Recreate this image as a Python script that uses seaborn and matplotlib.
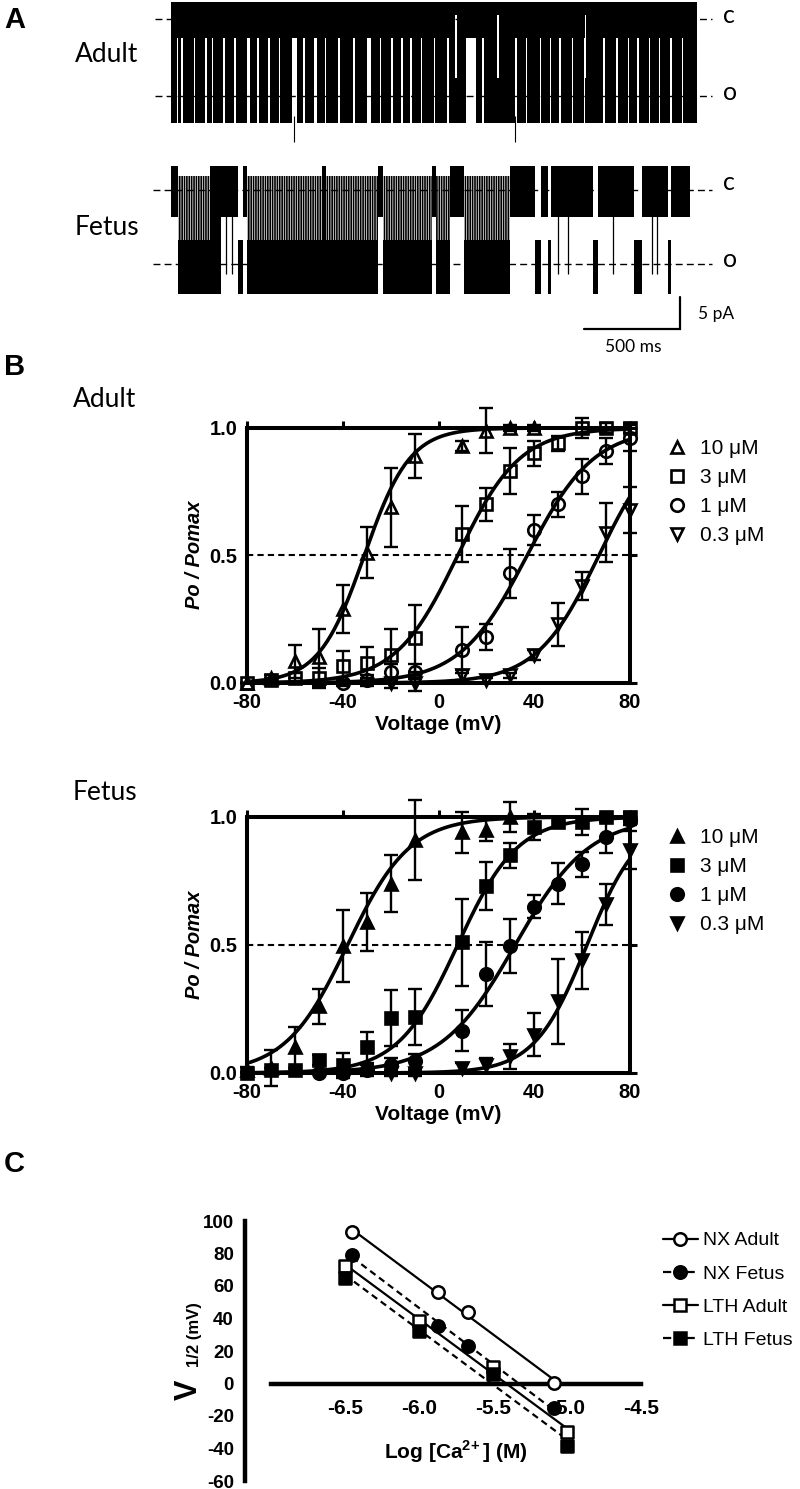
import numpy as np
import pandas as pd
import matplotlib
matplotlib.use("Agg")
import matplotlib.pyplot as plt
import seaborn as sns
from matplotlib.lines import Line2D

sns.set_theme(style="white")
plt.rcParams['font.family'] = ['Liberation Sans', 'DejaVu Sans']
plt.rcParams['axes.edgecolor'] = 'black'
plt.rcParams['text.color'] = 'black'
plt.rcParams['xtick.color'] = 'black'
plt.rcParams['ytick.color'] = 'black'
plt.rcParams['axes.unicode_minus'] = False
plt.rcParams['mathtext.fontset'] = 'custom'
plt.rcParams['mathtext.rm'] = 'Liberation Sans'
plt.rcParams['mathtext.bf'] = 'Liberation Sans:bold'
plt.rcParams['hatch.linewidth'] = 1.2

# ---------------- panel A: single channel recordings ----------------
# current levels (pA, openings go down) and noise band edges relative to level
adult_levels = {'c': 0.0, 'o': 12.0}
fetus_levels = {'c': 26.7, 'o': 38.3}
adult_band = {'c': (-2.7, 3.0), 'o': (-2.8, 4.2)}
fetus_band = {'c': (-3.7, 4.2), 'o': (-3.8, 4.7)}
adult_length_ms = 2740

# adult: fast flicker all along, white where the channel dwells closed / open
adult_closed_dwells = [(30, 8), (52, 10), (120, 6), (177, 10), (215, 6), (271, 10), (330, 6),
                       (396, 16), (450, 6), (505, 10), (560, 6), (630, 26), (690, 8),
                       (745, 14), (800, 6), (870, 8), (950, 6), (1021, 20), (1090, 6),
                       (1146, 10), (1200, 6), (1245, 12), (1300, 8), (1370, 6), (1440, 8),
                       (1536, 50), (1620, 8), (1791, 10), (1850, 6), (1920, 8), (1975, 6),
                       (2021, 10), (2090, 6), (2150, 8), (2250, 10), (2320, 6), (2380, 8),
                       (2427, 10), (2490, 6), (2540, 8), (2599, 10), (2660, 6)]
adult_open_dwells = [(1479, 8), (1698, 10), (2156, 6)]
adult_deep_spikes = [640, 1790]

# fetus: segments (start ms, end ms, state)
# C closed, O open, F fast flicker, Oc open with frequent brief closings
fetus_segments = [(0, 36, 'C'), (36, 203, 'Oc'), (203, 260, 'F'), (260, 349, 'C'),
                  (349, 375, 'O'), (375, 396, 'C'), (396, 787, 'Oc'), (787, 807, 'F'),
                  (807, 1078, 'Oc'), (1078, 1104, 'C'), (1104, 1359, 'Oc'), (1359, 1380, 'C'),
                  (1380, 1453, 'Oc'), (1453, 1526, 'C'), (1526, 1766, 'Oc'), (1766, 1896, 'C'),
                  (1896, 1927, 'O'), (1927, 1964, 'C'), (1964, 1979, 'O'), (1979, 2198, 'C'),
                  (2198, 2224, 'O'), (2224, 2411, 'C'), (2411, 2453, 'O'), (2453, 2589, 'C'),
                  (2589, 2604, 'O'), (2604, 2703, 'C')]
fetus_brief_openings = [286, 318, 2016, 2068, 2302, 2505, 2531]
scale_ms, scale_pa = 500, 5

# ---------------- panel B: Po / Pomax vs voltage ----------------
volts = [-80, -70, -60, -50, -40, -30, -20, -10, 0, 10, 20, 30, 40, 50, 60, 70, 80]
n = np.nan
adult_po = {
    '10': [0.0, 0.02, 0.085, 0.10, 0.29, 0.51, 0.69, 0.89, n, 0.93, 0.99, 1.0, 1.0, n, n, n, n],
    '3': [0.0, 0.01, 0.02, 0.02, 0.065, 0.08, 0.11, 0.175, n, 0.585, 0.70, 0.83, 0.90, 0.94, 1.0, 1.0, 1.0],
    '1': [n, n, n, n, 0.0, 0.01, 0.045, 0.045, n, 0.13, 0.18, 0.43, 0.60, 0.70, 0.81, 0.91, 0.96],
    '0.3': [n, n, n, n, n, n, 0.0, 0.0, n, 0.03, 0.01, 0.03, 0.11, 0.23, 0.38, 0.59, 0.68],
}
adult_sem = {
    '10': [0.0, 0.01, 0.065, 0.11, 0.095, 0.10, 0.155, 0.085, n, 0.02, 0.09, 0.01, 0.01, n, n, n, n],
    '3': [0.0, 0.01, 0.02, 0.04, 0.06, 0.06, 0.10, 0.13, n, 0.11, 0.065, 0.09, 0.05, 0.03, 0.04, 0.02, 0.02],
    '1': [n, n, n, n, 0.01, 0.02, 0.03, 0.03, n, 0.09, 0.05, 0.095, 0.06, 0.05, 0.07, 0.05, 0.05],
    '0.3': [n, n, n, n, n, n, 0.02, 0.03, n, 0.02, 0.01, 0.01, 0.02, 0.085, 0.055, 0.115, 0.09],
}
fetus_po = {
    '10': [0.013, 0.02, 0.10, 0.26, 0.495, 0.59, 0.74, 0.91, n, 0.94, 0.95, 1.0, n, n, n, n, n],
    '3': [0.0, 0.01, 0.01, 0.05, 0.03, 0.10, 0.215, 0.22, n, 0.51, 0.73, 0.85, 0.96, 0.98, 0.98, 1.0, 1.0],
    '1': [n, n, n, 0.0, 0.0, 0.01, 0.03, 0.045, n, 0.165, 0.385, 0.495, 0.65, 0.74, 0.815, 0.92, 0.99],
    '0.3': [n, n, n, n, n, n, 0.0, 0.0, n, 0.02, 0.03, 0.065, 0.15, 0.28, 0.44, 0.66, 0.87],
}
fetus_sem = {
    '10': [0.01, 0.07, 0.08, 0.07, 0.14, 0.115, 0.11, 0.155, n, 0.08, 0.045, 0.06, n, n, n, n, n],
    '3': [0.0, 0.01, 0.01, 0.02, 0.05, 0.06, 0.11, 0.11, n, 0.17, 0.095, 0.05, 0.05, 0.02, 0.05, 0.01, 0.02],
    '1': [n, n, n, 0.0, 0.01, 0.02, 0.03, 0.03, n, 0.08, 0.125, 0.105, 0.045, 0.08, 0.05, 0.06, 0.02],
    '0.3': [n, n, n, n, n, n, 0.01, 0.01, n, 0.02, 0.03, 0.05, 0.085, 0.165, 0.11, 0.08, 0.075],
}
# Boltzmann fits: (V1/2 mV, slope mV)
adult_fit = {'10': (-31, 9.5), '3': (8, 13), '1': (37, 14), '0.3': (67, 13)}
fetus_fit = {'10': (-38, 13), '3': (8, 12.5), '1': (32, 15.5), '0.3': (62, 11)}
conc_labels = {'10': '10 \u03bcM', '3': '3 \u03bcM', '1': '1 \u03bcM', '0.3': '0.3 \u03bcM'}
conc_markers = {'10': '^', '3': 's', '1': 'o', '0.3': 'v'}

# ---------------- panel C: V1/2 vs log[Ca] ----------------
nx_adult_logca = [-6.45, -5.87, -5.67, -5.09]
nx_adult_v = [93, 56.5, 44, 0.6]
nx_fetus_logca = [-6.45, -5.87, -5.67, -5.09]
nx_fetus_v = [79, 35.6, 23, -15]
lth_adult_logca = [-6.5, -6.0, -5.5, -5.0]
lth_adult_v = [72.5, 38.7, 10, -30]
lth_fetus_logca = [-6.5, -6.0, -5.5, -5.0]
lth_fetus_v = [65, 32.5, 5.6, -38.5]

W, H = 800, 1489
fig = plt.figure(figsize=(W / 100, H / 100), dpi=100)


def px_axes(x0, y0, x1, y1):
    return fig.add_axes([x0 / W, 1 - y1 / H, (x1 - x0) / W, (y1 - y0) / H])


def px_text(x, y, s, **kw):
    kw.setdefault('va', 'baseline')
    return fig.text(x / W, 1 - y / H, s, **kw)


calibri = ['Lato', 'DejaVu Sans']

# ---- A ----
axA = px_axes(150, 0, 800, 370)
ms_per_px = 500 / 96
pa_per_px = 1 / 6.4
axA.set_xlim(-21 * ms_per_px, 629 * ms_per_px)
axA.set_ylim((370 - 19) * pa_per_px, -19 * pa_per_px)
axA.axis('off')


def band(xr, y0, y1, **kw):
    kw.setdefault('color', 'black')
    axA.broken_barh(xr, (y0, y1 - y0), lw=0, **kw)


def hatch_band(xr, y0, y1, pattern):
    axA.broken_barh(xr, (y0, y1 - y0), facecolor='none', edgecolor='black', lw=0,
                    hatch=pattern)


ac, ao = adult_levels['c'], adult_levels['o']
a_top, a_cb = ac + adult_band['c'][0], ac + adult_band['c'][1]
a_ot, a_bot = ao + adult_band['o'][0], ao + adult_band['o'][1]
full = [(0, adult_length_ms)]
band(full, a_top, a_cb)
band(full, a_ot, a_bot)
hatch_band(full, a_cb, a_ot, '|' * 16)
band(adult_closed_dwells, a_cb, a_bot + 0.4, color='white')
band(adult_open_dwells, a_top + 2.0, a_ot, color='white')
axA.vlines(adult_deep_spikes, a_bot - 1, a_bot + 3, color='black', lw=0.8)

fc, fo = fetus_levels['c'], fetus_levels['o']
ctop, cbot = fc + fetus_band['c'][0], fc + fetus_band['c'][1]
otop, obot = fo + fetus_band['o'][0], fo + fetus_band['o'][1]
for t0, t1, st in fetus_segments:
    seg = [(t0, t1 - t0)]
    if st in ('C', 'F'):
        band(seg, ctop, cbot)
    if st in ('O', 'F', 'Oc'):
        band(seg, otop, obot)
    if st == 'F':
        hatch_band(seg, cbot, otop, '|' * 16)
    if st == 'Oc':
        hatch_band(seg, ctop + 1.5, otop, '|' * 7)
axA.vlines(fetus_brief_openings, cbot - 0.5, fo + 1.5, color='black', lw=0.9)

for lev, x0 in [(ac, -16), (ao, -16), (fc, -18), (fo, -18)]:
    axA.plot([x0 * ms_per_px, 541 * ms_per_px], [lev, lev], color='black', lw=1.0,
             ls=(0, (5, 3)), zorder=5)

# scale bar
sx1 = 509 * ms_per_px
sy1 = (329 - 19) * pa_per_px
axA.plot([sx1 - scale_ms, sx1, sx1], [sy1, sy1, sy1 - scale_pa], color='black', lw=1.6,
         solid_joinstyle='miter')

px_text(4, 28, 'A', fontsize=21, fontweight='bold')
px_text(75, 62, 'Adult', fontsize=19, family=calibri)
px_text(75, 235, 'Fetus', fontsize=19, family=calibri)
for s, y in [('c', 23), ('o', 100), ('c', 190), ('o', 267)]:
    px_text(723, y, s, fontsize=18, family=calibri)
px_text(698, 319, '5 pA', fontsize=12.5, family=calibri)
px_text(605, 352, '500 ms', fontsize=12.5, family=calibri)

# ---- B ----
vgrid = np.linspace(-80, 80, 321)


def draw_po(ax, po, sem, fit, filled):
    for key in ['10', '3', '1', '0.3']:
        v_half, k = fit[key]
        curve = pd.DataFrame({'v': vgrid, 'po': 1 / (1 + np.exp((v_half - vgrid) / k))})
        sns.lineplot(data=curve, x='v', y='po', ax=ax, color='black', lw=2.6,
                     zorder=3, clip_on=False)
        ax.errorbar(volts, po[key], yerr=sem[key], fmt='none', ecolor='black',
                    elinewidth=1.7, capsize=4.8, capthick=1.7, clip_on=False, zorder=2)
        ax.plot(volts, po[key], ls='none', marker=conc_markers[key], ms=9,
                mfc='black' if filled else 'none', mec='black', mew=1.9,
                clip_on=False, zorder=4, label=conc_labels[key])
    ax.axhline(0.5, color='black', lw=1.5, ls=(0, (3, 2)), zorder=1)
    ax.set_xlim(-80, 80)
    ax.set_ylim(0, 1)
    ax.set_xticks([-80, -40, 0, 40, 80])
    ax.set_yticks([0, 0.5, 1.0])
    ax.set_yticklabels(['0.0', '0.5', '1.0'])
    ax.tick_params(direction='out', length=5, width=2.2, top=True, right=True,
                   labeltop=False, labelright=False, labelsize=14.5, pad=2)
    for lab in ax.get_xticklabels() + ax.get_yticklabels():
        lab.set_fontweight('bold')
    for sp in ax.spines.values():
        sp.set_linewidth(2.9)
        sp.set_visible(True)
    ax.set_xlabel('')
    ax.set_ylabel('')
    ax.legend(loc='upper left', bbox_to_anchor=(1.073, 0.99), frameon=False,
              fontsize=15, handlelength=1.0, handletextpad=0.6, labelspacing=0.48,
              borderaxespad=0)


axB1 = px_axes(247, 428, 630, 683)
draw_po(axB1, adult_po, adult_sem, adult_fit, filled=False)
axB2 = px_axes(247, 817, 630, 1073)
draw_po(axB2, fetus_po, fetus_sem, fetus_fit, filled=True)

px_text(4, 375, 'B', fontsize=21, fontweight='bold')
px_text(73, 407, 'Adult', fontsize=19, family=calibri)
px_text(73, 800, 'Fetus', fontsize=19, family=calibri)
for yc in [555, 945]:
    px_text(195, yc, 'Po / Pomax', fontsize=14.5, fontweight='bold', style='italic',
            rotation=90, ha='center', va='center')
px_text(438, 724, 'Voltage (mV)', fontsize=15, fontweight='bold', ha='center', va='center')
px_text(438, 1114, 'Voltage (mV)', fontsize=15, fontweight='bold', ha='center', va='center')

# ---- C ----
axC = px_axes(245, 1221, 645, 1481)
series = [
    (nx_adult_logca, nx_adult_v, 'o', 'white', '-', 'NX Adult'),
    (nx_fetus_logca, nx_fetus_v, 'o', 'black', '--', 'NX Fetus'),
    (lth_adult_logca, lth_adult_v, 's', 'white', '-', 'LTH Adult'),
    (lth_fetus_logca, lth_fetus_v, 's', 'black', '--', 'LTH Fetus'),
]
handles = []
for x, y, mk, fcol, ls, lab in series:
    lkw = {'lw': 1.6, 'ls': ls, 'zorder': 3}
    if ls == '--':
        lkw['dashes'] = (3, 2)
    sns.regplot(x=np.array(x), y=np.array(y), ax=axC, ci=None, truncate=True, marker=mk,
                color='black',
                scatter_kws={'s': 80, 'facecolors': fcol, 'edgecolors': 'black',
                             'linewidths': 1.8, 'alpha': 1, 'zorder': 4, 'clip_on': False},
                line_kws=lkw)
    handles.append(Line2D([0], [0], color='black', lw=1.6, ls=ls, marker=mk, ms=9,
                          mfc=fcol, mec='black', mew=1.8, label=lab))

axC.set_xlim(-7.176, -4.473)
axC.set_ylim(-60, 100)
axC.spines['top'].set_visible(False)
axC.spines['right'].set_visible(False)
axC.spines['bottom'].set_position(('data', 0))
axC.spines['bottom'].set_bounds(-7.0, -4.5)
axC.spines['left'].set_bounds(-60, 100)
for sp in ['left', 'bottom']:
    axC.spines[sp].set_linewidth(3.2)
axC.set_xticks([-6.5, -6.0, -5.5, -5.0, -4.5])
axC.set_xticklabels(['-6.5', '-6.0', '-5.5', '-5.0', '-4.5'])
axC.set_yticks(range(-60, 101, 20))
axC.tick_params(axis='x', direction='out', length=5, width=2.4, labelsize=15, pad=6)
axC.tick_params(axis='y', direction='out', length=5, width=2.4, labelsize=13.5, pad=3)
for lab in axC.get_xticklabels() + axC.get_yticklabels():
    lab.set_fontweight('bold')
axC.set_xlabel('')
axC.set_ylabel('')
fig.legend(handles=handles, loc='upper left', bbox_to_anchor=(655 / W, 1 - 1224 / H),
           frameon=False, fontsize=14, handlelength=1.8, handletextpad=0.25,
           labelspacing=0.8, borderaxespad=0)

px_text(4, 1172, 'C', fontsize=21, fontweight='bold')
px_text(189, 1390, 'V', fontsize=22, fontweight='bold', rotation=90, ha='center', va='center')
px_text(195, 1335, '1/2 (mV)', fontsize=12, fontweight='bold', rotation=90,
        ha='center', va='center')
px_text(456, 1452, r'Log [Ca$^{\mathbf{2\!+}}$] (M)', fontsize=15, fontweight='bold',
        ha='center', va='center')

fig.savefig('out.png', dpi=100)
